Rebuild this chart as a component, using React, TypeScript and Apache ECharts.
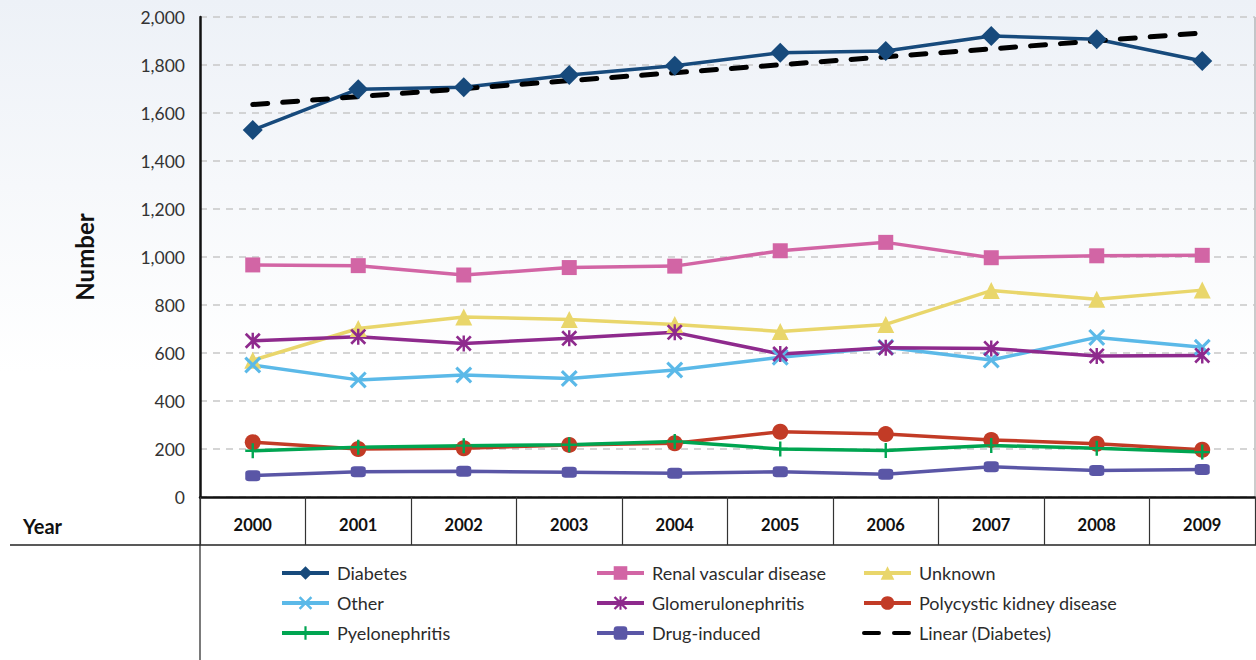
import React, { useEffect, useRef } from "react";
import * as echarts from "echarts";

const years = ["2000", "2001", "2002", "2003", "2004", "2005", "2006", "2007", "2008", "2009"];
const yTicks = [0, 200, 400, 600, 800, 1000, 1200, 1400, 1600, 1800, 2000];

const diabetes = [1529, 1699, 1707, 1758, 1797, 1851, 1858, 1921, 1907, 1817];
const renalVascular = [967, 964, 925, 956, 962, 1026, 1061, 997, 1005, 1007];
const unknown = [570, 702, 750, 740, 719, 690, 719, 860, 824, 862];
const other = [550, 488, 508, 494, 529, 582, 624, 571, 665, 624];
const glomerulonephritis = [651, 668, 640, 661, 686, 596, 622, 619, 588, 590];
const polycystic = [228, 200, 203, 217, 224, 272, 262, 238, 222, 197];
const pyelonephritis = [193, 207, 214, 218, 231, 200, 194, 215, 203, 187];
const drugInduced = [89, 105, 107, 103, 99, 105, 95, 126, 110, 115];

// Excel-style linear trendline fitted to the Diabetes series
function linearFit(values: number[]): number[] {
  const n = values.length;
  const mx = (n - 1) / 2;
  const my = values.reduce((a, b) => a + b, 0) / n;
  let sxy = 0;
  let sxx = 0;
  values.forEach((v, i) => {
    sxy += (i - mx) * (v - my);
    sxx += (i - mx) * (i - mx);
  });
  const slope = sxy / sxx;
  return values.map((_, i) => Math.round((my + slope * (i - mx)) * 10) / 10);
}
const diabetesTrend = linearFit(diabetes);

const X_PATH = "path://M0,1.3 L1.3,0 L5,3.7 L8.7,0 L10,1.3 L6.3,5 L10,8.7 L8.7,10 L5,6.3 L1.3,10 L0,8.7 L3.7,5 Z";
const PLUS_PATH = "path://M4.2,0 H5.8 V4.2 H10 V5.8 H5.8 V10 H4.2 V5.8 H0 V4.2 H4.2 Z";
const STAR_PATH =
  "path://M4.25,0 H5.75 V10 H4.25 Z M0,1.2 L1.2,0 L5,3.8 L8.8,0 L10,1.2 L6.2,5 L10,8.8 L8.8,10 L5,6.2 L1.2,10 L0,8.8 L3.8,5 Z";

const FONT = "Lato, 'Open Sans', sans-serif";

export default function App() {
  const ref = useRef<HTMLDivElement>(null);

  useEffect(() => {
    if (!ref.current) return;
    const chart = echarts.init(ref.current, undefined, { renderer: "svg" });

    const mk = (
      name: string,
      data: number[],
      color: string,
      symbol: string,
      size: number | number[]
    ) => ({
      name,
      type: "line",
      data,
      symbol,
      symbolSize: size,
      showSymbol: true,
      lineStyle: { color, width: 3.5 },
      itemStyle: { color },
      emphasis: { disabled: true },
    });

    const legendCommon = {
      orient: "vertical",
      top: 559,
      itemWidth: 47,
      itemHeight: 17,
      itemGap: 12,
      lineStyle: { width: 4 },
      textStyle: { fontSize: 18, lineHeight: 17, color: "#2b2b2b", fontFamily: FONT, padding: [0, 0, 0, 3] },
      selectedMode: false,
    };

    chart.setOption({
      animation: false,
      textStyle: { fontFamily: FONT },
      grid: { left: 200, right: 1, top: 17, bottom: 163, containLabel: false },
      graphic: [
        {
          type: "rect",
          z: -10,
          shape: { x: 0, y: 0, width: 1256, height: 497 },
          style: {
            fill: new echarts.graphic.LinearGradient(0, 0, 0, 1, [
              { offset: 0, color: "#edf1f7" },
              { offset: 0.75, color: "#ffffff" },
              { offset: 1, color: "#ffffff" },
            ]),
          },
          silent: true,
        },
        {
          type: "line",
          shape: { x1: 10, y1: 545, x2: 1256, y2: 545 },
          style: { stroke: "#222", lineWidth: 1.5 },
          silent: true,
        },
        {
          type: "line",
          shape: { x1: 200, y1: 497, x2: 200, y2: 660 },
          style: { stroke: "#222", lineWidth: 1.2 },
          silent: true,
        },
        {
          type: "line",
          shape: { x1: 1255, y1: 17, x2: 1255, y2: 497 },
          style: { stroke: "#999", lineWidth: 1 },
          silent: true,
        },
        {
          type: "text",
          x: 23,
          y: 526,
          style: {
            text: "Year",
            fontSize: 20,
            fontWeight: "bold",
            fontFamily: FONT,
            fill: "#111",
            verticalAlign: "middle",
          },
          silent: true,
        },
      ],
      xAxis: {
        type: "category",
        data: years,
        boundaryGap: true,
        axisLine: { show: true, lineStyle: { color: "#111", width: 2.5 } },
        axisTick: { show: true, interval: 0, length: 48, lineStyle: { color: "#333", width: 1.2 } },
        axisLabel: {
          interval: 0,
          margin: 19,
          fontSize: 16.5,
          fontWeight: "bold",
          color: "#111",
          fontFamily: FONT,
        },
        splitLine: { show: false },
      },
      yAxis: {
        type: "value",
        min: yTicks[0],
        max: yTicks[yTicks.length - 1],
        interval: 200,
        name: "Number",
        nameLocation: "middle",
        nameGap: 104,
        nameRotate: 90,
        nameTextStyle: { fontSize: 24, fontWeight: "bold", color: "#111", fontFamily: FONT },
        axisLine: { show: true, lineStyle: { color: "#111", width: 2.5 } },
        axisTick: { show: false },
        axisLabel: {
          margin: 15,
          fontSize: 17.5,
          color: "#333",
          fontFamily: FONT,
          formatter: (v: number) => v.toLocaleString("en-US"),
        },
        splitLine: { show: true, lineStyle: { color: "#c8c8c8", width: 1.5, type: [7, 6] } },
      },
      legend: [
        { ...legendCommon, left: 275, data: ["Diabetes", "Other", "Pyelonephritis"] },
        { ...legendCommon, left: 590, data: ["Renal vascular disease", "Glomerulonephritis", "Drug-induced"] },
        {
          ...legendCommon,
          left: 857,
          data: [
            "Unknown",
            "Polycystic kidney disease",
            { name: "Linear (Diabetes)", itemStyle: { opacity: 0 } },
          ],
        },
      ],
      series: [
        mk("Diabetes", diabetes, "#174a7c", "diamond", 20),
        mk("Renal vascular disease", renalVascular, "#d265a5", "rect", 15),
        mk("Unknown", unknown, "#e9d66b", "triangle", 17),
        mk("Other", other, "#5bb9e8", X_PATH, 17),
        mk("Glomerulonephritis", glomerulonephritis, "#8e2a8d", STAR_PATH, 16),
        mk("Polycystic kidney disease", polycystic, "#c23b26", "circle", 16),
        mk("Pyelonephritis", pyelonephritis, "#00a551", PLUS_PATH, 15),
        mk("Drug-induced", drugInduced, "#5a56a6", "roundRect", [15, 11]),
        {
          name: "Linear (Diabetes)",
          type: "line",
          data: diabetesTrend,
          symbol: "none",
          showSymbol: false,
          lineStyle: { color: "#000", width: 5, type: [15, 15], cap: "round" },
          itemStyle: { color: "rgba(0,0,0,0)" },
          emphasis: { disabled: true },
        },
      ],
    });

    return () => chart.dispose();
  }, []);

  return (
    <div
      ref={ref}
      style={{ position: "fixed", left: 0, top: 0, width: 1256, height: 660, background: "#fff" }}
    />
  );
}
